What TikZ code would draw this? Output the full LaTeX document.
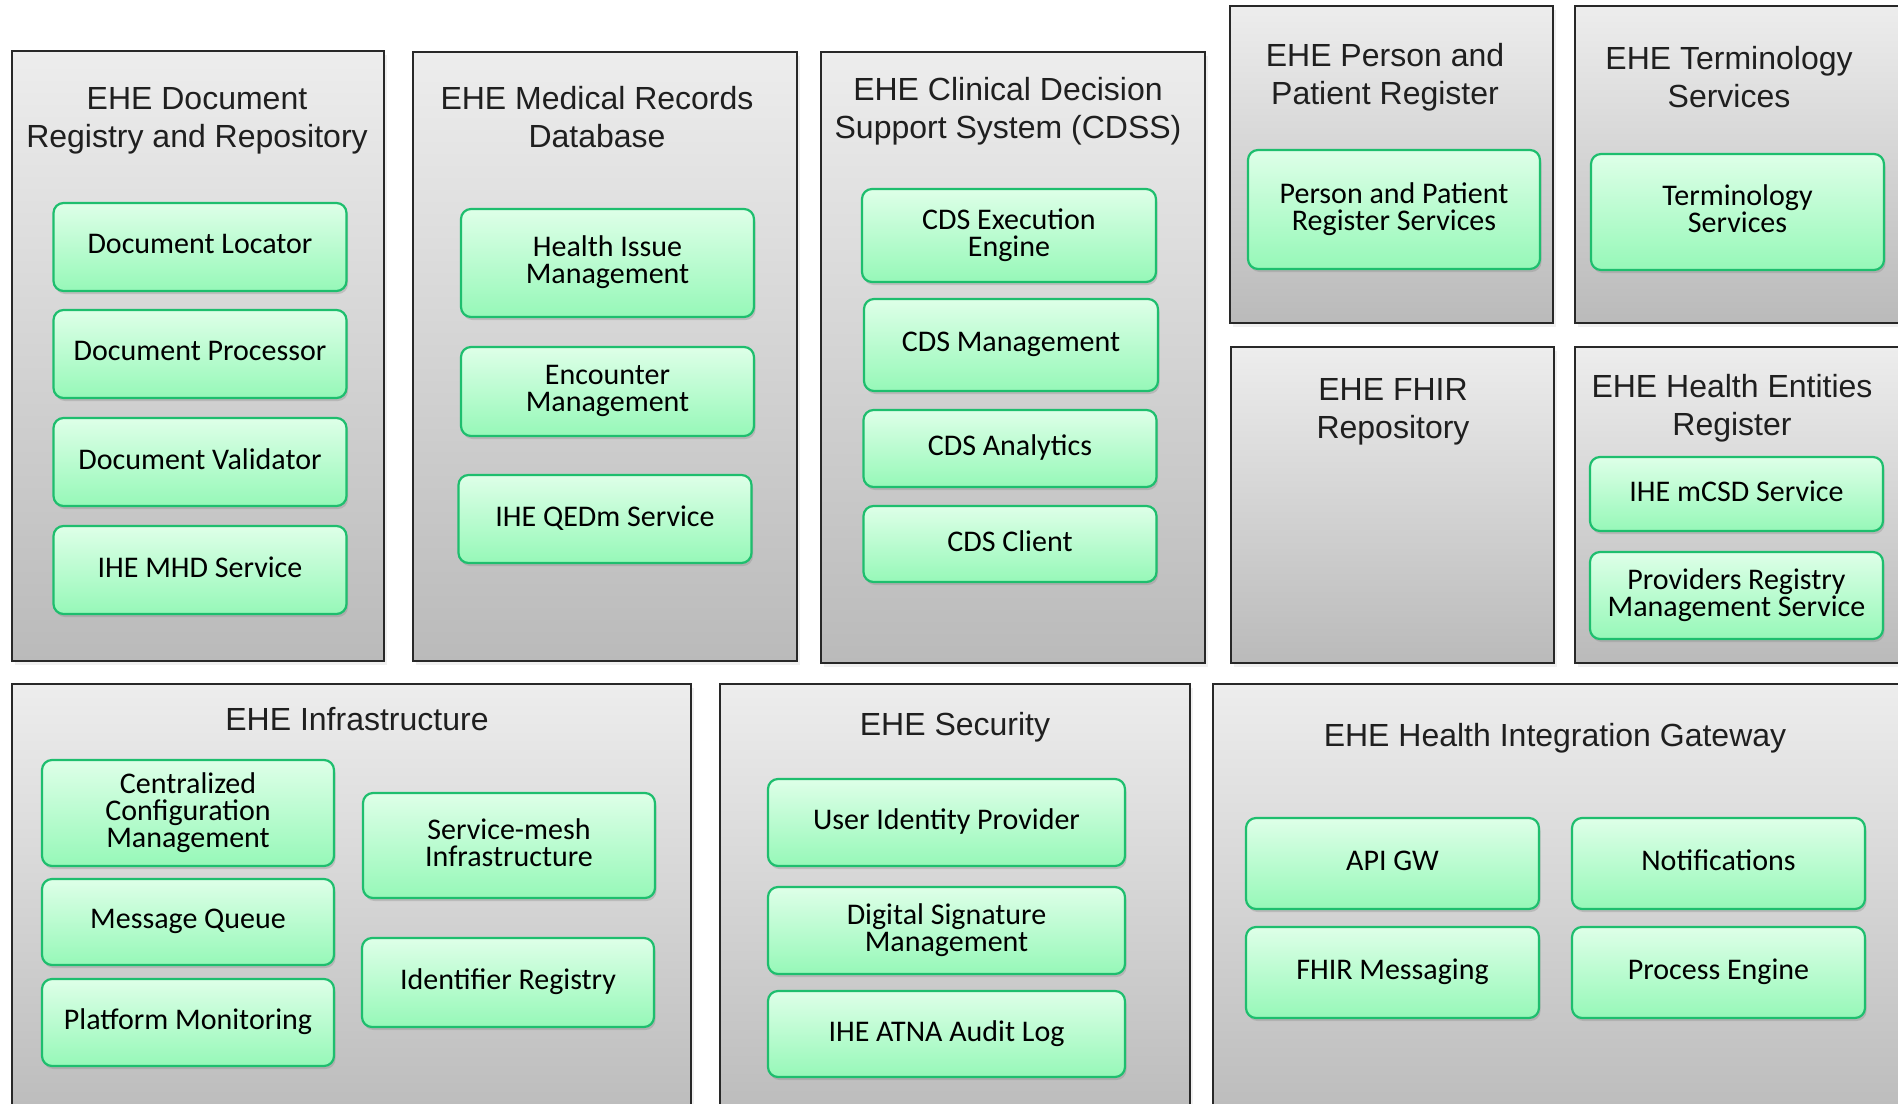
\documentclass[tikz,border=0pt]{standalone}
\usepackage{fontspec}
\setmainfont{Liberation Sans}
\newfontfamily\svcfont{Carlito}
\usetikzlibrary{shadows}

\definecolor{mintTop}{RGB}{222,255,232}
\definecolor{mintBot}{RGB}{150,248,184}
\definecolor{mintLine}{RGB}{30,190,110}
\definecolor{boxTop}{RGB}{237,237,237}
\definecolor{boxBot}{RGB}{186,186,186}
\definecolor{boxLine}{RGB}{40,40,40}

\begin{document}
\begin{tikzpicture}[x=1pt, y=-1pt,
    group/.style={rectangle, draw=boxLine, line width=1.6pt, top color=boxTop, bottom color=boxBot, inner sep=0pt, drop shadow={shadow xshift=3pt, shadow yshift=-4pt, opacity=0.12}},
    title/.style={align=center, text=black!88, font=\fontsize{32}{38}\selectfont},
    service/.style={rectangle, rounded corners=10pt, draw=mintLine, line width=2.2pt, top color=mintTop, bottom color=mintBot, align=center, inner sep=0pt, text depth=6pt, minimum width=293pt, minimum height=88pt, font=\svcfont\fontsize{30}{27}\selectfont, drop shadow={shadow xshift=1.5pt, shadow yshift=-3pt, opacity=0.3}}
]
\useasboundingbox (0,0) rectangle (1898,1103);
\clip (0,0) rectangle (1898,1103);

% DOCUMENT REGISTRY AND REPOSITORY
\node[group, minimum width=372pt, minimum height=610pt] (doc) at (198, 356) {};
\node[title] (doc_title) at (197, 121) {EHE Document\\Registry and Repository};
\node[service] (doc_loc) at (200, 247) {Document Locator};
\node[service] (doc_proc) at (200, 354) {Document Processor};
\node[service] (doc_valid) at (200, 462) {Document Validator};
\node[service] (doc_mhd) at (200, 570) {IHE MHD Service};

% MEDICAL RECORDS DATABASE
\node[group, minimum width=384pt, minimum height=609pt] (med) at (605, 356.5) {};
\node[title] (med_title) at (597, 117) {EHE Medical Records\\Database};
\node[service, minimum height=108pt] (med_issue) at (607.5, 263) {Health Issue\\Management};
\node[service, minimum height=89pt] (med_enc) at (607.5, 391.5) {Encounter\\Management};
\node[service] (med_qedm) at (605, 519) {IHE QEDm Service};

% CLINICAL DECISION SUPPORT
\node[group, minimum width=384pt, minimum height=611pt] (cdss) at (1013, 357.5) {};
\node[title] (cdss_title) at (1008, 111) {EHE Clinical Decision\\Support System (CDSS)};
\node[service, minimum width=294pt, minimum height=93pt] (cdss_exec) at (1009, 235.5) {CDS Execution\\Engine};
\node[service, minimum width=294pt, minimum height=92pt] (cdss_mgmt) at (1011, 345) {CDS Management};
\node[service, minimum height=77pt] (cdss_ana) at (1010, 448.5) {CDS Analytics};
\node[service, minimum height=76pt] (cdss_client) at (1010, 544) {CDS Client};

% PERSON AND PATIENT REGISTER
\node[group, minimum width=323pt, minimum height=317pt] (person) at (1391.5, 164.5) {};
\node[title] (person_title) at (1385, 77) {EHE Person and\\Patient Register};
\node[service, minimum width=292pt, minimum height=119pt] (person_svc) at (1394, 209.5) {Person and Patient\\Register Services};

% TERMINOLOGY SERVICES
\node[group, minimum width=355pt, minimum height=317pt] (term) at (1752.5, 164.5) {};
\node[title] (term_title) at (1729, 77) {EHE Terminology\\Services};
\node[service, minimum height=116pt] (term_svc) at (1737.5, 212) {Terminology\\Services};

% FHIR REPOSITORY
\node[group, minimum width=323pt, minimum height=316pt] (fhir) at (1392.5, 505) {};
\node[title] (fhir_title) at (1393, 412) {EHE FHIR\\Repository};

% HEALTH ENTITIES REGISTER
\node[group, minimum width=355pt, minimum height=316pt] (hent) at (1752.5, 505) {};
\node[title] (hent_title) at (1732, 408) {EHE Health Entities\\Register};
\node[service, minimum height=74pt] (hent_mcsd) at (1736.5, 494) {IHE mCSD Service};
\node[service, minimum height=87pt] (hent_prov) at (1736.5, 595.5) {Providers Registry\\Management Service};

% INFRASTRUCTURE
\node[group, minimum width=679pt, minimum height=447pt] (infra) at (351.5, 907.5) {};
\node[title] (infra_title) at (357, 719) {EHE Infrastructure};
\node[service, minimum width=292pt, minimum height=106pt] (infra_conf) at (188, 813) {Centralized\\Configuration\\Management};
\node[service, minimum width=292pt, minimum height=86pt] (infra_mq) at (188, 922) {Message Queue};
\node[service, minimum width=292pt, minimum height=87pt] (infra_mon) at (188, 1022.5) {Platform Monitoring};
\node[service, minimum width=292pt, minimum height=105pt] (infra_mesh) at (509, 845.5) {Service-mesh\\Infrastructure};
\node[service, minimum width=292pt, minimum height=89pt] (infra_ident) at (508, 982.5) {Identifier Registry};

% SECURITY
\node[group, minimum width=470pt, minimum height=446pt] (sec) at (955, 907) {};
\node[title] (sec_title) at (955, 727) {EHE Security};
\node[service, minimum width=357pt, minimum height=87pt] (sec_idp) at (946.5, 822.5) {User Identity Provider};
\node[service, minimum width=357pt, minimum height=87pt] (sec_sign) at (946.5, 930.5) {Digital Signature\\Management};
\node[service, minimum width=357pt, minimum height=86pt] (sec_atna) at (946.5, 1034) {IHE ATNA Audit Log};

% HEALTH INTEGRATION GATEWAY
\node[group, minimum width=717pt, minimum height=447pt] (gw) at (1571.5, 907.5) {};
\node[title] (gw_title) at (1555, 738) {EHE Health Integration Gateway};
\node[service, minimum height=91pt] (gw_api) at (1392.5, 863.5) {API GW};
\node[service, minimum height=91pt] (gw_notif) at (1718.5, 863.5) {Notifications};
\node[service, minimum height=91pt] (gw_fhir) at (1392.5, 972.5) {FHIR Messaging};
\node[service, minimum height=91pt] (gw_proc) at (1718.5, 972.5) {Process Engine};

\end{tikzpicture}
\end{document}
